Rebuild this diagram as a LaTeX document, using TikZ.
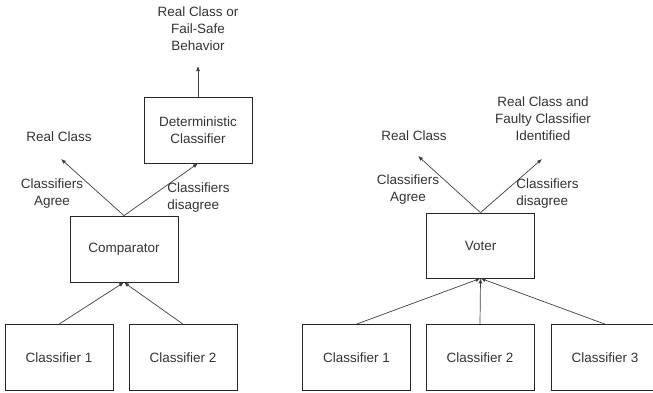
\documentclass[tikz,border=0pt]{standalone}
\usepackage{fontspec}
\setmainfont{Liberation Sans}
\usetikzlibrary{arrows.meta}

\begin{document}
\begin{tikzpicture}[x=0.03cm, y=-0.03cm, every node/.style={font=\fontsize{11.5}{14.5}\selectfont, text=black!80}, >={Latex[length=1.5mm, width=1.2mm]}, blk/.style={draw=black!85, line width=0.6pt, minimum width=3.24cm, minimum height=1.98cm, inner sep=0pt, align=center}, lbl/.style={align=center, inner sep=1pt}, ar/.style={->, draw=black!75, line width=0.6pt}]
	\useasboundingbox (0,0) rectangle (653,392);
	% duplex: two classifiers and a comparator
	\foreach \k/\x in {1/59, 2/183} {\node[blk] (a\k) at (\x,357.5) {Classifier \k};}
	\node[blk] (comp) at (124,249) {Comparator};
	\node[blk] (det) at (198,130) {Deterministic\\Classifier};
	\node[lbl] (outa) at (198,29) {Real Class or\\Fail-Safe\\Behavior};
	\node[lbl] (rca) at (59,137) {Real Class};
	\node[lbl] (agra) at (52,194) {Classifiers\\Agree};
	\node[lbl, align=left, anchor=west] (disa) at (166,198) {Classifiers\\disagree};
	\coordinate (tipa) at (61,159);
	\coordinate (tipo) at (198,66);
	\foreach \k in {1,2} {\draw[ar] (a\k.north) -- (comp.south);}
	\draw[ar] (comp.north) -- (tipa);
	\draw[ar] (comp.north) -- (det.south);
	\draw[ar] (det.north) -- (tipo);
	% triplex: three classifiers and a voter
	\foreach \k/\x in {1/356.5, 2/480, 3/605} {\node[blk] (b\k) at (\x,357.5) {Classifier \k};}
	\node[blk, minimum height=1.95cm] (vot) at (480.5,245.5) {Voter};
	\node[lbl] (rcb) at (414,136) {Real Class};
	\node[lbl] (outb) at (543,119) {Real Class and\\Faulty Classifier\\Identified};
	\node[lbl] (agrb) at (408,190) {Classifiers\\Agree};
	\node[lbl, align=left, anchor=west] (disb) at (515,194) {Classifiers\\disagree};
	\coordinate (tipb) at (418,156);
	\coordinate (tipc) at (542,159);
	\foreach \k in {1,2,3} {\draw[ar] (b\k.north) -- (vot.south);}
	\draw[ar] (vot.north) -- (tipb);
	\draw[ar] (vot.north) -- (tipc);
\end{tikzpicture}
\end{document}
